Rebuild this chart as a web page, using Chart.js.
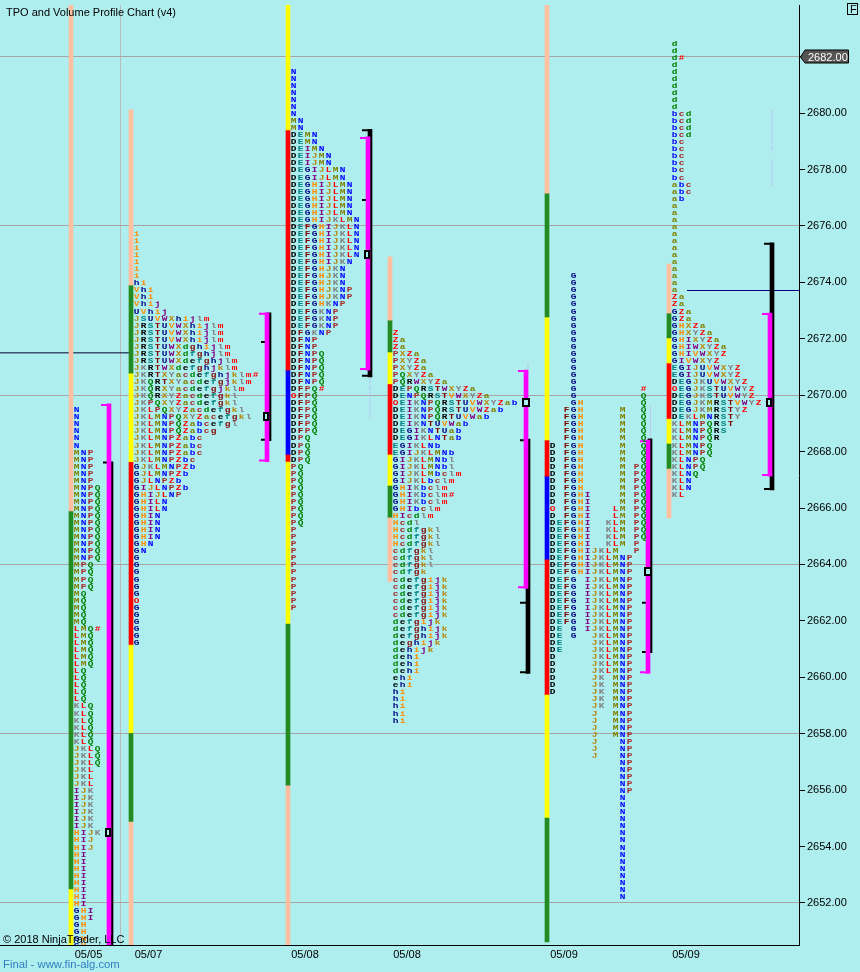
<!DOCTYPE html>
<html><head><meta charset="utf-8">
<style>html,body{margin:0;padding:0;background:#AFEEEE;overflow:hidden}canvas{display:block}</style>
<script src="https://cdn.jsdelivr.net/npm/chart.js@4/dist/chart.umd.min.js"></script>
</head><body><canvas id="c" width="860" height="972"></canvas>
<script>
/* ---------- TPO rows: [letters, number of consecutive 0.25-point rows] ---------- */
const session1Top = 2669.5;
const session1Rows = [["N",6],["MNP",5],["MNPQ",11],["MPQ",4],["MQ",5],["LMQ#",1],["LMQ",5],["LQ",5],["KLQ",6],["JKLQ",3],["JKL",3],["IJK",6],["HIJK",1],["HIJ",2],["HI",8],["GHI",2],["GH",4]];
const session2Top = 2675.75;
const session2Rows = [["i",7],["hi",1],["Vhi",2],["Vhij",1],["UVhij",1],["JSUVWXhijlm",1],["JRSTUVWXhijlm",3],["JRSTUWXdghijlm",1],["JRSTUWXdfghjlm",1],["JRSTUWXdefghjlm",1],["JKRTWXdefghjklm",1],["JKRTXYacdefghjklm#",1],["JKQRTXYacdefgjklm",1],["JKQRXYacdefgjklm",1],["JKQRXYZacdefgkl",1],["JKPQXYZacdefgkl",1],["JKLPQXYZacdefgkl",1],["JKLMNPQXYZacefgkl",1],["JKLMNPQZabcefgl",1],["JKLMNPQZabcg",1],["JKLMNPZabc",3],["JKLMNPZbc",1],["GJKLMNPZb",1],["GJLMNPZb",1],["GJLNPZb",1],["GIJLNPZb",1],["GHIJLNP",1],["GHILN",2],["GHIN",4],["GHN",1],["GN",1],["G",6],["O",1],["G",6]];
const session3Top = 2681.5;
const session3Rows = [["N",7],["MN",2],["DEMN",2],["DEIMN",1],["DEIJMN",2],["DEGIJLMN",2],["DEGHIJLMN",5],["DEGHIJKLMN",1],["DEFGHIJKLN",5],["DEFGHIJKN",1],["DEFGHJKN",3],["DEFGHJKNP",2],["DEFGHKNP",1],["DEFGKNP",3],["DFGKNP",1],["DFNP",2],["DFNPQ",5],["DFPQ#",1],["OFPQ",1],["DFPQ",5],["DPQ",4],["PQ",9],["P",12]];
const session4Top = 2672.25;
const session4Rows = [["Z",1],["Za",2],["PXZa",1],["PXYZa",2],["PQXYZa",1],["PQRWXYZa",1],["DEPQRSTWXYZa",1],["DENPQRSTVWXYZa",1],["OEIKNPQRSTUVWXYZab",1],["DEIKNPQRSTUVWZab",1],["DEIKNPQRTUVWab",1],["DEIKNTUVWab",1],["DEGIKNTUab",1],["DEGIKLNTab",1],["EGIKLNb",1],["EGIJKLMNb",1],["GIJKLMNbl",2],["GIJKLMbclm",1],["GIJKLbclm",1],["GHIKbclm",1],["GHIKbclm#",1],["GHIKbclm",1],["GHIbclm",1],["HIcdlm",1],["Hcdl",1],["Hcdfgkl",3],["cdfgkl",3],["cdfgk",1],["cdefgijk",6],["defgijk",1],["defghijk",2],["deghijk",1],["dehijk",1],["dehi",3],["ehi",2],["hi",5]];
const session5Top = 2674.25;
const session5Rows = [["   G",16],["   G         #",1],["   G         Q",1],["   GH        Q",1],["  FGH     M  Q",5],["D FGH     M  Q",3],["D FGH     M PQ",4],["D FGHI    M PQ",2],["O FGHI   LM PQ",1],["D FGHI   LM PQ",1],["DEFGHI  KLM PQ",3],["DEFGHI  KLM P",1],["DEFGHIJKLM  P",1],["DEFGHIJKLMNP",3],["DEFG IJKLMNP",7],["DE G IJKLMNP",1],["DE G  JKLMNP",1],["DE    JKLMNP",2],["D     JKLMNP",3],["D     JK MNP",3],["      JK MNP",2],["      J  MNP",4],["      J   NP",3],["          NP",5],["          N",15]];
const session6Top = 2682.5;
const session6Rows = [["d",2],["d#",1],["d",7],["bcd",4],["bc",6],["abc",2],["ab",1],["a",13],["Za",2],["GZa",2],["GHXZa",1],["GHXYZa",1],["GHIXYZa",1],["GHIWXYZa",1],["GHIVWXYZ",1],["GIVWXYZ",1],["EGIJUVWXYZ",2],["DEGJKUVWXYZ",1],["OEGJKSTUVWYZ",1],["DEGJKSTUVWYZ",1],["DEGJKMRSTVWYZ",1],["DEGJKMRSTYZ",1],["DEKLMNRSTY",1],["KLMNPQRST",1],["KLMNPQRS",1],["KLMNPQR",1],["KLMNPQ",2],["KLNPQ",2],["KLNQ",1],["KLN",2],["KL",1]];

/* ---------- session bar segments: price breaks and phase names ---------- */
const session1Breaks = [2683.83,2665.9,2652.5,2650.51];
const session1Phases = ["peach","green","yellow"];
const session2Breaks = [2680.11,2673.9,2670.78,2667.64,2661.14,2658.01,2654.87,2650.51];
const session2Phases = ["peach","green","yellow","red","yellow","green","peach"];
const session3Breaks = [2683.83,2679.4,2670.89,2667.88,2667.63,2661.89,2656.15,2650.51];
const session3Phases = ["yellow","red","blue","red","yellow","green","peach"];
const session4Breaks = [2674.9,2672.66,2671.53,2670.4,2667.88,2666.78,2665.65,2663.39];
const session4Phases = ["peach","green","yellow","red","yellow","green","peach"];
const session5Breaks = [2683.83,2677.16,2672.77,2668.41,2667.13,2664.16,2659.37,2655.01,2650.62];
const session5Phases = ["peach","green","yellow","red","blue","red","yellow","green"];
const session6Breaks = [2674.65,2672.91,2672.03,2671.14,2669.15,2668.27,2667.38,2665.65];
const session6Phases = ["peach","green","yellow","red","yellow","green","peach"];

/* ---------- value area (magenta), range (black), POC markers ---------- */
const valueAreaHigh = [2669.69,2672.92,2679.16,2670.89,2668.41,2672.91];
const valueAreaLow  = [2650.51,2667.64,2670.89,2663.15,2660.14,2667.13];
const rangeHigh     = [2667.64,2672.92,2679.42,2668.44,2668.45,2675.40];
const rangeLow      = [2650.51,2668.39,2670.65,2660.14,2660.87,2666.64];
const pocPrices     = [2654.5,2669.25,2675,2669.75,2663.75,2669.75];
const valueAreaCaps = [[2669.65],[2672.89,2667.68],[2679.12,2670.93],[2670.86,2663.19],[2668.37,2660.18],[2672.88,2667.17]];
const rangeCaps     = [[2667.61],[2671.88,2668.42],[2679.39,2676.92,2670.69],[2668.40,2662.64,2660.18],[2662.64,2660.90],[2675.37,2666.67]];

/* ---------- reference lines and axis ---------- */
const priceTicksStep = 2;
const highlightedPrice = 2682;
const dateLabels = ["05/05","05/07","05/08","05/08","05/09","05/09"];
const nakedPocPrice1 = 2671.5;
const nakedPocPrice2 = 2673.71;
const faintSegments = [[2680.11,2678.65],[2678.37,2677.41],[2670.61,2669.19],[2669.62,2668.52],[2671.14,2668.87],[2660.15,2659.9]];

/* ---------- layout (kept apart from the data) ---------- */
const COL = 7;
const tpoX = [76.7,136.7,293.7,395.7,552.7,674.7];
const barX = [71,131,288,390,547,669];
const vaX  = [109,267,368,526,648,770];
const capL = [101,259,360,518,640,762];
const blackCapL = [103,261,362,520,642,764];
const pocX = [108,266,367,526,648,769];
const pocW = [6,6,6,8,8,6];
const dateX = [88.5,148.5,305,407,564,686];
const faintX = [772,772,370,650.5,528,528];
const gridX = 120;
const phaseColours = {peach:"#FFBFA0",green:"#228B22",yellow:"#FFFF00",red:"#FF0000",blue:"#0000FF"};
const letterCycle = ["#000000","#008080","#800000","#000080","#FF8C00","#800080","#B8860B","#808080","#FF0000","#808000","#0000FF","#A52A2A","#008000"];
const letterOrder = "DEFGHIJKLMNPQRSTUVWXYZabcdefghijklm";
function letterColour(ch){
  if(ch==="O"||ch==="#") return "#FF0000";
  return letterCycle[letterOrder.indexOf(ch)%13];
}

const allRows=[session1Rows,session2Rows,session3Rows,session4Rows,session5Rows,session6Rows];
const allTops=[session1Top,session2Top,session3Top,session4Top,session5Top,session6Top];
const allBreaks=[session1Breaks,session2Breaks,session3Breaks,session4Breaks,session5Breaks,session6Breaks];
const allPhases=[session1Phases,session2Phases,session3Phases,session4Phases,session5Phases,session6Phases];

function tpoPoints(){
  const pts=[];
  allRows.forEach((rows,s)=>{
    let r=0;
    rows.forEach(([txt,n])=>{
      for(let k=0;k<n;k++,r++){
        [...txt].forEach((ch,c)=>{
          if(ch!==" ") pts.push({x:tpoX[s]+c*COL,y:allTops[s]-r*0.25,ch});
        });
      }
    });
  });
  return pts;
}
const datasets=[];
Object.keys(phaseColours).forEach(name=>{
  const data=[];
  allPhases.forEach((ph,s)=>ph.forEach((p,i)=>{
    if(p===name) data.push({x:barX[s],y:[allBreaks[s][i+1],allBreaks[s][i]]});
  }));
  datasets.push({type:"bar",label:name,data,backgroundColor:phaseColours[name],barThickness:4,grouped:false,borderWidth:0,order:5});
});
datasets.push({type:"bar",label:"range",data:rangeHigh.map((h,i)=>({x:vaX[i]+2,y:[rangeLow[i],h]})),backgroundColor:"#000",barThickness:4,grouped:false,borderWidth:0,order:4});
datasets.push({type:"bar",label:"value area",data:valueAreaHigh.map((h,i)=>({x:vaX[i],y:[valueAreaLow[i],h]})),backgroundColor:"#FF00FF",barThickness:4,grouped:false,borderWidth:0,order:2});
function capData(caps,left,right){
  const d=[];
  caps.forEach((list,s)=>list.forEach(p=>{d.push({x:left[s],y:p},{x:vaX[s]+right,y:p},{x:null,y:null});}));
  return d;
}
datasets.push({type:"line",label:"range caps",data:capData(rangeCaps,blackCapL,1),borderColor:"#000",borderWidth:2,pointRadius:0,spanGaps:false,order:3});
datasets.push({type:"line",label:"value caps",data:capData(valueAreaCaps,capL,-1),borderColor:"#FF00FF",borderWidth:2,pointRadius:0,spanGaps:false,order:1});
const faintData=[];
faintSegments.forEach((seg,i)=>{faintData.push({x:faintX[i],y:seg[0]},{x:faintX[i],y:seg[1]},{x:null,y:null});});
datasets.push({type:"line",label:"faint",data:faintData,borderColor:"#B9C6F6",borderWidth:1,borderDash:[6,1],pointRadius:0,spanGaps:false,order:6});
datasets.push({type:"line",label:"level1",data:[{x:0,y:nakedPocPrice1},{x:131,y:nakedPocPrice1}],borderColor:"#000030",borderWidth:1,pointRadius:0,order:7});
datasets.push({type:"line",label:"level2",data:[{x:687,y:nakedPocPrice2},{x:799,y:nakedPocPrice2}],borderColor:"#000080",borderWidth:1,pointRadius:0,order:7});
datasets.push({type:"scatter",label:"poc",data:pocPrices.map((p,i)=>({x:pocX[i],y:p,w:pocW[i]})),pointRadius:0,order:0});
datasets.push({type:"scatter",label:"tpo",data:tpoPoints(),pointRadius:0,order:0});

const painter={
  id:"painter",
  afterDatasetsDraw(chart){
    const c=chart.ctx,a=chart.chartArea;
    const find=l=>chart.getDatasetMeta(chart.data.datasets.findIndex(d=>d.label===l));
    c.save();
    c.beginPath();c.rect(a.left,a.top,a.right-a.left,a.bottom-a.top);c.clip();
    c.textAlign="center";c.textBaseline="middle";
    c.font='bold 8px "Liberation Mono"';
    const tm=find("tpo");
    tm.data.forEach((el,i)=>{
      const d=chart.data.datasets[tm.index].data[i];
      c.fillStyle=letterColour(d.ch);
      c.save();
      c.translate(el.x,Math.round(el.y)+0.5);
      c.scale(1.18,1);
      c.fillText(d.ch,0,0);
      c.restore();
    });
    const pm=find("poc");
    pm.data.forEach((el,i)=>{
      const w=chart.data.datasets[pm.index].data[i].w,h=9;
      const x=Math.round(el.x-w/2),y=Math.round(el.y-h/2);
      c.fillStyle="#000";c.fillRect(x,y,w,h);
      c.fillStyle="#AFEEEE";c.fillRect(x+2,y+2,w-4,h-4);
    });
    c.restore();
    c.save();
    c.textAlign="left";c.textBaseline="alphabetic";
    c.fillStyle="#000";c.font='11px "Liberation Sans"';
    c.fillText("TPO and Volume Profile Chart (v4)",6,16);
    c.fillText("\u00A9 2018 NinjaTrader, LLC",3,943);
    c.fillStyle="#2F7EC0";c.font='11.3px "Liberation Sans"';
    c.fillText("Final - www.fin-alg.com",3,968);
    c.strokeStyle="#000";c.lineWidth=1;c.strokeRect(847.5,3.5,10,11);
    c.fillStyle="#000";c.font='11px "Liberation Sans"';c.fillText("F",850,13);
    const py=Math.round(chart.scales.y.getPixelForValue(highlightedPrice));
    c.fillStyle="#555";c.strokeStyle="#000";
    c.beginPath();c.moveTo(800.5,py);c.lineTo(805,py-7);c.lineTo(848.5,py-7);c.lineTo(848.5,py+6);c.lineTo(805,py+6);c.closePath();c.fill();c.stroke();
    c.fillStyle="#fff";c.font='11px "Liberation Sans"';
    c.fillText(highlightedPrice.toFixed(2),808,py+4);
    c.restore();
  }
};

const xTickValues=[...dateX,gridX];
new Chart(document.getElementById("c"),{
  type:"bar",
  data:{datasets},
  plugins:[painter],
  options:{
    responsive:false,animation:false,
    layout:{padding:{top:5,left:0,right:0,bottom:0}},
    plugins:{legend:{display:false},tooltip:{enabled:false},title:{display:false}},
    events:[],
    scales:{
      x:{type:"linear",min:0,max:799,offset:false,
        afterBuildTicks(s){s.ticks=xTickValues.map(v=>({value:v}));},
        afterFit(s){s.height=27;s.paddingLeft=0;s.paddingRight=0;},
        grid:{offset:false,drawTicks:false,lineWidth:1,color:c=>c.tick&&c.tick.value===gridX?"#BBBBBB":"rgba(0,0,0,0)"},
        border:{display:true,color:"#000",width:1},
        ticks:{autoSkip:false,maxRotation:0,padding:3,color:"#000",font:{family:"Liberation Sans",size:11},
          callback(v){const i=dateX.indexOf(v);return i>=0?dateLabels[i]:"";}}
      },
      y:{type:"linear",position:"right",min:2650.51,max:2683.83,
        afterFit(s){s.width=61;s.paddingTop=0;s.paddingBottom=0;},
        grid:{tickLength:6,tickColor:"#000",lineWidth:1,color:c=>c.tick&&Math.round(c.tick.value)%6===0?"#A9A3A3":"rgba(0,0,0,0)"},
        border:{display:true,color:"#000",width:1},
        ticks:{stepSize:priceTicksStep,includeBounds:false,padding:2,color:"#000",font:{family:"Liberation Sans",size:11},
          callback(v){return v===highlightedPrice?"":Number(v).toFixed(2);}}
      }
    }
  }
});
</script></body></html>
